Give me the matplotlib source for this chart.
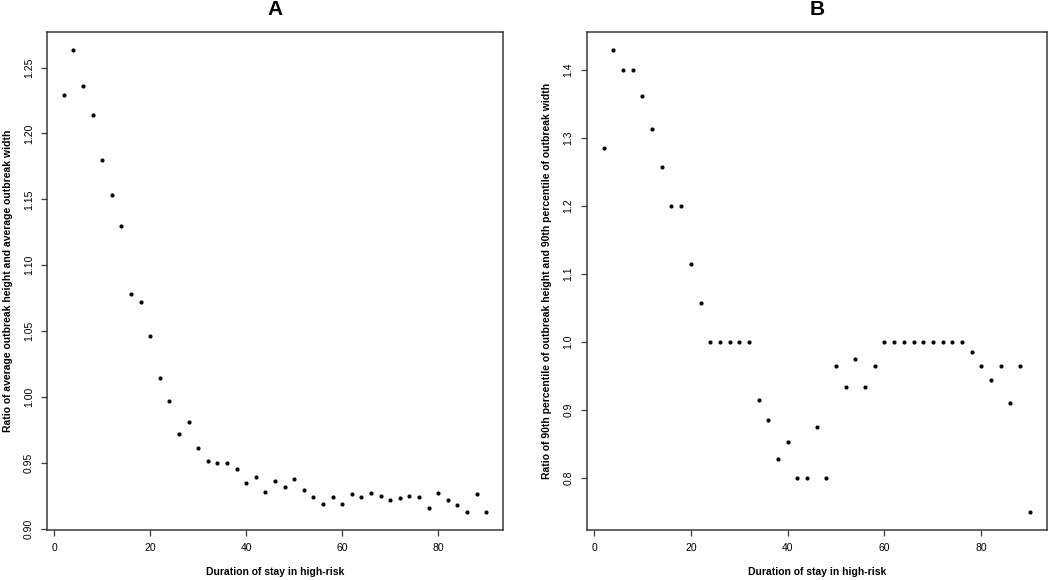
import numpy as np
import matplotlib
matplotlib.use('Agg')
import matplotlib.pyplot as plt

plt.rcParams['font.family'] = ['Liberation Sans', 'DejaVu Sans']

# duration of stay in high-risk (days)
duration = np.arange(2, 92, 2)

# panel A: ratio of average outbreak height and average outbreak width
ratio_avg = [
    1.229, 1.263, 1.236, 1.214, 1.180, 1.153, 1.130, 1.078, 1.072, 1.046,
    1.014, 0.997, 0.972, 0.981, 0.961, 0.951, 0.950, 0.950, 0.945, 0.935,
    0.939, 0.928, 0.936, 0.932, 0.938, 0.929, 0.924, 0.919, 0.924, 0.919,
    0.926, 0.924, 0.927, 0.925, 0.922, 0.923, 0.925, 0.924, 0.916, 0.927,
    0.922, 0.918, 0.913, 0.926, 0.913,
]

# panel B: ratio of 90th percentile of height and 90th percentile of width
ratio_p90 = [
    1.286, 1.429, 1.400, 1.400, 1.362, 1.314, 1.258, 1.200, 1.200, 1.115,
    1.057, 1.000, 1.000, 1.000, 1.000, 1.000, 0.914, 0.885, 0.827, 0.853,
    0.800, 0.800, 0.875, 0.800, 0.965, 0.933, 0.975, 0.933, 0.965, 1.000,
    1.000, 1.000, 1.000, 1.000, 1.000, 1.000, 1.000, 1.000, 0.985, 0.964,
    0.943, 0.964, 0.910, 0.964, 0.750,
]

xticks = [0, 20, 40, 60, 80]
yticks_a = [0.90, 0.95, 1.00, 1.05, 1.10, 1.15, 1.20, 1.25]
yticks_b = [0.8, 0.9, 1.0, 1.1, 1.2, 1.3, 1.4]

xlabel = 'Duration of stay in high-risk'
ylabel_a = 'Ratio of average outbreak height and average outbreak width'
ylabel_b = 'Ratio of 90th percentile of outbreak height and 90th percentile of outbreak width'

edge = '#3a3a3a'
fs = 7.5


def r_range(v):
    # R style 4% padding
    lo, hi = min(v), max(v)
    d = (hi - lo) * 0.04
    return lo - d, hi + d


def panel(ax, y, title, yticks, ylab, fmt):
    ax.scatter(duration, y, s=9, c='black', linewidths=0, zorder=3)
    ax.set_xlim(*r_range(duration))
    ax.set_ylim(*r_range(y))
    ax.set_xticks(xticks)
    ax.set_yticks(yticks)
    ax.set_yticklabels([fmt % t for t in yticks], rotation=90, va='center')
    ax.tick_params(direction='out', length=4, width=0.9, color=edge,
                   labelsize=fs, pad=5.5)
    for s in ax.spines.values():
        s.set_color(edge)
        s.set_linewidth(1.1)
    ax.set_title(title, fontsize=15, fontweight='bold', pad=12)
    ax.set_xlabel(xlabel, fontsize=fs, fontweight='bold', labelpad=10)
    ax.set_ylabel(ylab, fontsize=fs, fontweight='bold', labelpad=8)


fig = plt.figure(figsize=(10.5, 5.8), dpi=100)
ax1 = fig.add_axes([47 / 1050, 1 - 530 / 580, 456 / 1050, 498 / 580])
ax2 = fig.add_axes([586.7 / 1050, 1 - 530 / 580, 460 / 1050, 498 / 580])

panel(ax1, ratio_avg, 'A', yticks_a, ylabel_a, '%.2f')
panel(ax2, ratio_p90, 'B', yticks_b, ylabel_b, '%.1f')

fig.savefig('out.png', dpi=100)
